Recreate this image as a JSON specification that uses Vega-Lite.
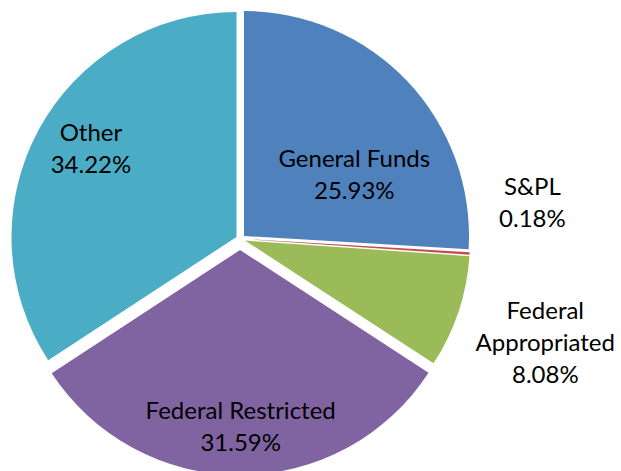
{
  "$schema": "https://vega.github.io/schema/vega-lite/v6.json",
  "width": 480,
  "height": 464,
  "autosize": {"type": "none"},
  "padding": {"left": 0, "top": 7, "right": 141, "bottom": 0},
  "background": "white",
  "config": {"view": {"stroke": null}},
  "data": {"values": [
    {"cat": "General Funds", "label": "General Funds\n25.93%", "pct": 25.93, "order": 1},
    {"cat": "S&PL", "label": "S&PL\n0.18%", "pct": 0.18, "order": 2},
    {"cat": "Federal Appropriated", "label": "Federal\nAppropriated\n8.08%", "pct": 8.08, "order": 3},
    {"cat": "Federal Restricted", "label": "Federal Restricted\n31.59%", "pct": 31.59, "order": 4},
    {"cat": "Other", "label": "Other\n34.22%", "pct": 34.22, "order": 5}
  ]},
  "transform": [
    {"stack": "pct", "groupby": [], "sort": [{"field": "order", "order": "ascending"}], "as": ["t0", "t1"]}
  ],
  "layer": [
    {
      "transform": [{"filter": "datum.cat == 'General Funds'"}],
      "mark": {"type": "arc", "outerRadius": 225, "xOffset": 4, "yOffset": -3, "color": "#4F81BD"},
      "encoding": {"theta": {"field": "t0", "type": "quantitative", "stack": null, "scale": {"domain": [0, 100]}}, "theta2": {"field": "t1"}}
    },
    {
      "transform": [{"filter": "datum.cat == 'S&PL'"}],
      "mark": {"type": "arc", "outerRadius": 225, "xOffset": 5, "yOffset": 0, "color": "#C0504D"},
      "encoding": {"theta": {"field": "t0", "type": "quantitative", "stack": null, "scale": {"domain": [0, 100]}}, "theta2": {"field": "t1"}}
    },
    {
      "transform": [{"filter": "datum.cat == 'Federal Appropriated'"}],
      "mark": {"type": "arc", "outerRadius": 225, "xOffset": 5, "yOffset": 1.5, "color": "#9BBB59"},
      "encoding": {"theta": {"field": "t0", "type": "quantitative", "stack": null, "scale": {"domain": [0, 100]}}, "theta2": {"field": "t1"}}
    },
    {
      "transform": [{"filter": "datum.cat == 'Federal Restricted'"}],
      "mark": {"type": "arc", "outerRadius": 225, "xOffset": 0, "yOffset": 11, "color": "#8064A2"},
      "encoding": {"theta": {"field": "t0", "type": "quantitative", "stack": null, "scale": {"domain": [0, 100]}}, "theta2": {"field": "t1"}}
    },
    {
      "transform": [{"filter": "datum.cat == 'Other'"}],
      "mark": {"type": "arc", "outerRadius": 225, "xOffset": -3.5, "yOffset": -2, "color": "#4BACC6"},
      "encoding": {"theta": {"field": "t0", "type": "quantitative", "stack": null, "scale": {"domain": [0, 100]}}, "theta2": {"field": "t1"}}
    },
    {
      "mark": {"type": "text", "radius": 131, "dx": 19, "dy": 11, "font": "Lato", "fontSize": 24, "lineHeight": 32, "lineBreak": "\n", "align": "center", "baseline": "middle", "color": "black"},
      "encoding": {
        "theta": {"field": "pct", "type": "quantitative", "stack": true, "scale": {"domain": [0, 100]}},
        "order": {"field": "order", "type": "quantitative"},
        "text": {"condition": {"test": "datum.cat == 'General Funds'", "field": "label", "type": "nominal"}, "value": ""}
      }
    },
    {
      "mark": {"type": "text", "radius": 293, "dx": 0, "dy": -70, "font": "Lato", "fontSize": 24, "lineHeight": 32, "lineBreak": "\n", "align": "center", "baseline": "middle", "color": "black"},
      "encoding": {
        "theta": {"field": "pct", "type": "quantitative", "stack": true, "scale": {"domain": [0, 100]}},
        "order": {"field": "order", "type": "quantitative"},
        "text": {"condition": {"test": "datum.cat == 'S&PL'", "field": "label", "type": "nominal"}, "value": ""}
      }
    },
    {
      "mark": {"type": "text", "radius": 322, "dx": 0, "dy": -29.5, "font": "Lato", "fontSize": 24, "lineHeight": 32, "lineBreak": "\n", "align": "center", "baseline": "middle", "color": "black"},
      "encoding": {
        "theta": {"field": "pct", "type": "quantitative", "stack": true, "scale": {"domain": [0, 100]}},
        "order": {"field": "order", "type": "quantitative"},
        "text": {"condition": {"test": "datum.cat == 'Federal Appropriated'", "field": "label", "type": "nominal"}, "value": ""}
      }
    },
    {
      "mark": {"type": "text", "radius": 187, "dx": 0.5, "dy": -14, "font": "Lato", "fontSize": 24, "lineHeight": 32, "lineBreak": "\n", "align": "center", "baseline": "middle", "color": "black"},
      "encoding": {
        "theta": {"field": "pct", "type": "quantitative", "stack": true, "scale": {"domain": [0, 100]}},
        "order": {"field": "order", "type": "quantitative"},
        "text": {"condition": {"test": "datum.cat == 'Federal Restricted'", "field": "label", "type": "nominal"}, "value": ""}
      }
    },
    {
      "mark": {"type": "text", "radius": 174, "dx": 4, "dy": -22, "font": "Lato", "fontSize": 24, "lineHeight": 32, "lineBreak": "\n", "align": "center", "baseline": "middle", "color": "black"},
      "encoding": {
        "theta": {"field": "pct", "type": "quantitative", "stack": true, "scale": {"domain": [0, 100]}},
        "order": {"field": "order", "type": "quantitative"},
        "text": {"condition": {"test": "datum.cat == 'Other'", "field": "label", "type": "nominal"}, "value": ""}
      }
    }
  ]
}
